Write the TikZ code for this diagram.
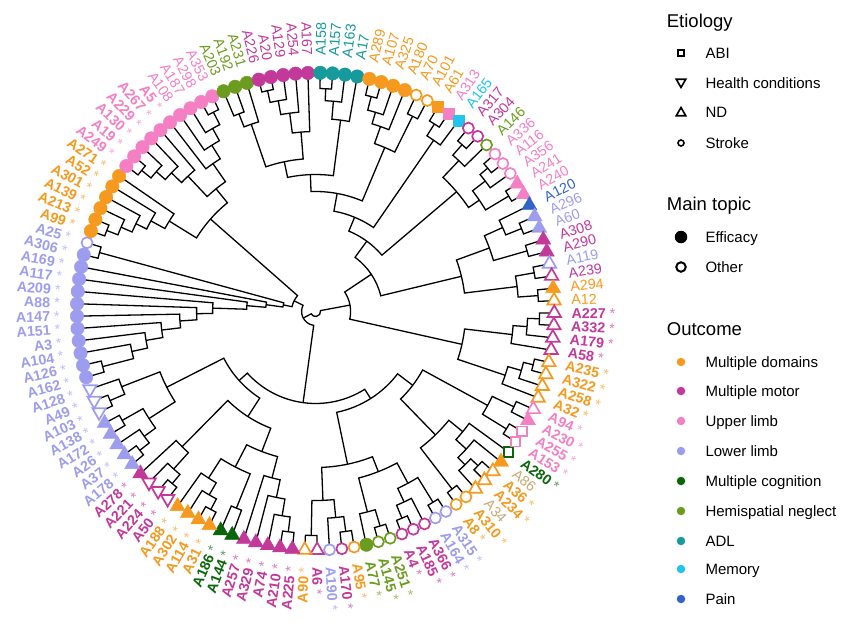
\documentclass[tikz,border=0pt]{standalone}
\usepackage{fontspec}
\setmainfont{Liberation Sans}
\usetikzlibrary{shapes.geometric}
\definecolor{cMD}{HTML}{F59A1E}
\definecolor{cMM}{HTML}{C2399A}
\definecolor{cUL}{HTML}{F480C3}
\definecolor{cLL}{HTML}{9D9DF0}
\definecolor{cMC}{HTML}{0B650B}
\definecolor{cHN}{HTML}{6C9C1F}
\definecolor{cADL}{HTML}{169A9B}
\definecolor{cMEM}{HTML}{22C4EE}
\definecolor{cPAIN}{HTML}{3163C8}
\definecolor{cTAN}{HTML}{C9A872}
\tikzset{
  br/.style={line width=1.3pt, black, line join=miter},
  mk/.style={inner sep=0pt, outer sep=0pt},
  mkc/.style={mk, circle, minimum size=13.5pt},
  mks/.style={mk, rectangle, minimum size=11pt},
  mku/.style={mk, regular polygon, regular polygon sides=3, minimum size=17.5pt},
  mkd/.style={mku, shape border rotate=180},
  mkco/.style={mk, circle, minimum size=11pt, line width=1.7pt},
  mkso/.style={mk, rectangle, minimum size=9.5pt, line width=1.7pt},
  mkuo/.style={mk, regular polygon, regular polygon sides=3, minimum size=15.5pt, line width=1.7pt},
  mkdo/.style={mkuo, shape border rotate=180},
  lbl/.style={inner sep=0pt, outer sep=0pt, font=\fontsize{14.3}{16}\selectfont},
  ttl/.style={inner sep=0pt, anchor=base west, font=\fontsize{18.5}{22}\selectfont},
  itm/.style={inner sep=0pt, anchor=base west, font=\fontsize{15}{18}\selectfont},
}
\def\tipR{238.7}
\def\labR{256}
\newcommand\jn[4]{%
  \edef\ja{\csname ta@#3\endcsname}%
  \edef\jb{\csname ta@#4\endcsname}%
  \edef\jra{\csname tr@#3\endcsname}%
  \edef\jrb{\csname tr@#4\endcsname}%
  \draw[br] (\ja:\jra pt) -- (\ja:#2pt) arc[start angle=\ja, end angle=\jb, radius=#2pt] -- (\jb:\jrb pt);
  \pgfmathsetmacro\jm{(\ja+\jb)/2}%
  \expandafter\xdef\csname ta@#1\endcsname{\jm}%
  \expandafter\xdef\csname tr@#1\endcsname{#2}%
}
\newcommand\lbltext[2]{\ifnum#2=1 \textbf{#1} {\color{.!65!white}*}\else #1\fi}
\newcommand\T[6]{%
  \edef\tang{\csname ta@#1\endcsname}%
  \ifnum#5=1 \node[mk#4, draw=#3, fill=#3, line width=0.4pt] (tip#1) at (\tang:\tipR pt) {};%
  \else \node[mk#4o, draw=#3, fill=white] (tip#1) at (\tang:\tipR pt) {};\fi
  \pgfmathsetmacro\lang{\tang<-90?\tang+360:\tang}%
  \pgfmathtruncatemacro\lside{\lang>90?1:0}%
  \ifnum#6=2 \def\lcol{cTAN}\else\def\lcol{#3}\fi
  \ifnum\lside=1
    \pgfmathsetmacro\lrot{\lang-180}%
    \node[lbl, text=\lcol, anchor=east, rotate=\lrot] (lab#1) at (\lang:\labR pt) {\lbltext{#2}{#6}};%
  \else
    \node[lbl, text=\lcol, anchor=west, rotate=\lang] (lab#1) at (\lang:\labR pt) {\lbltext{#2}{#6}};%
  \fi
}
\begin{document}
\begin{tikzpicture}
\fill[white] (-315.6pt,-317.5pt) rectangle (534.4pt,311.5pt);
\useasboundingbox (-315.6pt,-317.5pt) rectangle (534.4pt,311.5pt);
% tip angles
\foreach \n in {1,...,121}{%
  \ifnum\n>71 \pgfmathsetmacro\tipang{326.9-2.9752*\n}\else\pgfmathsetmacro\tipang{-33.1-2.9752*\n}\fi
  \expandafter\xdef\csname ta@\n\endcsname{\tipang}%
  \expandafter\xdef\csname tr@\n\endcsname{\tipR}%
}
% ---------- Q clade (top / right)
\jn{q1}{212}{72}{73}
\jn{qOL}{198}{q1}{74}
\jn{m1}{226}{75}{76}
\jn{m2}{214}{m1}{77}
\jn{m3}{200}{m2}{78}
\jn{qMG}{180}{m3}{79}
\jn{qOM}{153}{qOL}{qMG}
\jn{t1}{223}{80}{81}
\jn{t2}{211}{t1}{82}
\jn{qTE}{193}{t2}{83}
\jn{qOMT}{137}{qOM}{qTE}
\jn{o1}{222}{84}{85}
\jn{o2}{208}{o1}{86}
\jn{o3}{196}{o2}{87}
\jn{o4}{218}{88}{89}
\jn{qOR}{178}{o3}{o4}
\jn{qTO}{120}{qOMT}{qOR}
\jn{s1}{222}{90}{91}
\jn{qSQ}{208}{s1}{92}
\jn{qTOS}{102}{qTO}{qSQ}
\jn{c1}{222}{93}{94}
\jn{qCM}{208}{c1}{95}
\jn{p1}{224}{96}{97}
\jn{p2}{214}{p1}{98}
\jn{p3}{225}{99}{100}
\jn{qPK}{198}{p2}{p3}
\jn{qCP}{185}{qCM}{qPK}
\jn{qA}{87}{qTOS}{qCP}
\jn{r1}{222}{102}{103}
\jn{r2}{205}{101}{r1}
\jn{r3}{220}{104}{105}
\jn{rA}{185}{r2}{r3}
\jn{r4}{222}{106}{107}
\jn{r5}{223}{108}{109}
\jn{rB}{203}{r4}{r5}
\jn{qRR}{150}{rA}{rB}
\jn{qQ1}{67}{qA}{qRR}
\jn{mo1}{224}{110}{111}
\jn{mo2}{212}{mo1}{112}
\jn{mo3}{198}{mo2}{113}
\jn{oo1}{224}{114}{115}
\jn{oo2}{214}{oo1}{116}
\jn{oo3}{200}{oo2}{117}
\jn{qMOO}{150}{mo3}{oo3}
\jn{Q}{35}{qQ1}{qMOO}
% ---------- C clade (bottom)
\jn{ps1}{220}{118}{119}
\jn{ps2}{224}{120}{121}
\jn{cPS}{196}{ps1}{ps2}
\jn{g1}{224}{3}{4}
\jn{g2}{214}{g1}{5}
\jn{g3}{204}{2}{g2}
\jn{g4}{190}{1}{g3}
\jn{g5}{224}{6}{7}
\jn{cG}{172}{g4}{g5}
\jn{cBRb}{122}{cPS}{cG}
\jn{b1}{224}{19}{20}
\jn{b2}{222}{16}{17}
\jn{b3}{207}{18}{b2}
\jn{bL}{189}{b1}{b3}
\jn{b4}{224}{13}{14}
\jn{bOL}{207}{15}{b4}
\jn{b5}{224}{11}{12}
\jn{bMC}{210}{b5}{10}
\jn{bLC}{224}{8}{9}
\jn{bML}{195}{bMC}{bLC}
\jn{bR}{172}{bOL}{bML}
\jn{cBRa}{156}{bL}{bR}
\jn{cCR}{103}{cBRb}{cBRa}
\jn{f1}{222}{21}{22}
\jn{f2}{207}{f1}{23}
\jn{f3}{190}{f2}{24}
\jn{cMF}{172}{f3}{25}
\jn{cDK}{212}{26}{27}
\jn{e1}{224}{28}{29}
\jn{e2}{212}{e1}{30}
\jn{cOR}{198}{e2}{31}
\jn{cDO}{175}{cDK}{cOR}
\jn{cMa}{150}{cMF}{cDO}
\jn{h1}{224}{32}{33}
\jn{h2}{212}{h1}{34}
\jn{cMO}{190}{h2}{35}
\jn{cCM}{125}{cMa}{cMO}
\jn{l1}{224}{36}{37}
\jn{l2}{212}{l1}{38}
\jn{l3}{222}{39}{40}
\jn{cLTf}{198}{l2}{l3}
\jn{l4}{224}{41}{42}
\jn{cLTo}{208}{l4}{43}
\jn{cLLn}{167}{cLTf}{cLTo}
\jn{cCL}{103}{cCM}{cLLn}
\jn{C}{92}{cCR}{cCL}
% ---------- P clade (left / top-left)
\jn{la0}{220}{44}{45}
\jn{la1}{188}{la0}{46}
\jn{la2}{172}{la1}{47}
\jn{la3}{155}{la2}{48}
\jn{la4}{136}{la3}{49}
\jn{la5}{119}{la4}{50}
\jn{la6}{103}{la5}{51}
\jn{la7}{69}{la6}{52}
\jn{la8}{50}{la7}{53}
\jn{la9}{224}{54}{55}
\jn{pLAD}{33}{la8}{la9}
\jn{k1}{224}{56}{57}
\jn{k2}{212}{k1}{58}
\jn{k3}{200}{k2}{59}
\jn{k4}{188}{k3}{60}
\jn{pOR}{172}{k4}{61}
\jn{u1}{224}{62}{63}
\jn{u2}{212}{u1}{64}
\jn{u3}{200}{u2}{65}
\jn{pUa}{186}{u3}{66}
\jn{v1}{224}{70}{71}
\jn{v2}{210}{v1}{69}
\jn{v3}{196}{v2}{68}
\jn{pUb}{180}{v3}{67}
\jn{pPK}{158}{pUa}{pUb}
\jn{pTL}{140}{pOR}{pPK}
\jn{P}{24}{pLAD}{pTL}
\jn{CP}{14}{C}{P}
\jn{root}{5}{Q}{CP}
% ---------- tips: n, label, colour, shape, filled, label style
\T{1}{A280}{cMC}{s}{0}{1}
\T{2}{A86}{cMD}{u}{1}{2}
\T{3}{A36}{cMD}{u}{0}{1}
\T{4}{A234}{cMD}{u}{0}{1}
\T{5}{A34}{cMD}{u}{0}{2}
\T{6}{A310}{cMD}{c}{0}{1}
\T{7}{A8}{cMD}{c}{0}{1}
\T{8}{A315}{cLL}{c}{0}{1}
\T{9}{A164}{cLL}{c}{0}{1}
\T{10}{A366}{cMM}{c}{0}{1}
\T{11}{A185}{cMM}{c}{0}{1}
\T{12}{A4}{cMM}{c}{0}{1}
\T{13}{A251}{cHN}{c}{0}{1}
\T{14}{A145}{cHN}{c}{0}{1}
\T{15}{A77}{cHN}{c}{1}{1}
\T{16}{A95}{cMD}{c}{0}{1}
\T{17}{A170}{cMM}{c}{0}{1}
\T{18}{A190}{cLL}{c}{0}{1}
\T{19}{A6}{cMM}{u}{0}{1}
\T{20}{A90}{cMD}{u}{0}{1}
\T{21}{A225}{cMM}{u}{1}{1}
\T{22}{A210}{cMM}{u}{1}{1}
\T{23}{A74}{cMM}{u}{1}{1}
\T{24}{A329}{cMM}{u}{1}{1}
\T{25}{A257}{cMM}{u}{1}{1}
\T{26}{A144}{cMC}{u}{1}{1}
\T{27}{A186}{cMC}{u}{1}{1}
\T{28}{A31}{cMD}{u}{1}{1}
\T{29}{A114}{cMD}{u}{1}{1}
\T{30}{A302}{cMD}{u}{1}{1}
\T{31}{A188}{cMD}{u}{1}{1}
\T{32}{A50}{cMM}{d}{0}{1}
\T{33}{A224}{cMM}{d}{0}{1}
\T{34}{A221}{cMM}{d}{0}{1}
\T{35}{A278}{cMM}{u}{1}{1}
\T{36}{A178}{cLL}{u}{1}{1}
\T{37}{A37}{cLL}{u}{1}{1}
\T{38}{A26}{cLL}{u}{1}{1}
\T{39}{A172}{cLL}{u}{1}{1}
\T{40}{A138}{cLL}{u}{1}{1}
\T{41}{A103}{cLL}{d}{0}{1}
\T{42}{A49}{cLL}{d}{0}{1}
\T{43}{A128}{cLL}{d}{0}{1}
\T{44}{A162}{cLL}{c}{1}{1}
\T{45}{A126}{cLL}{c}{1}{1}
\T{46}{A104}{cLL}{c}{1}{1}
\T{47}{A3}{cLL}{c}{1}{1}
\T{48}{A151}{cLL}{c}{1}{1}
\T{49}{A147}{cLL}{c}{1}{1}
\T{50}{A88}{cLL}{c}{1}{1}
\T{51}{A209}{cLL}{c}{1}{1}
\T{52}{A117}{cLL}{c}{1}{1}
\T{53}{A169}{cLL}{c}{1}{1}
\T{54}{A306}{cLL}{c}{1}{1}
\T{55}{A25}{cLL}{c}{0}{1}
\T{56}{A99}{cMD}{c}{1}{1}
\T{57}{A213}{cMD}{c}{1}{1}
\T{58}{A139}{cMD}{c}{1}{1}
\T{59}{A301}{cMD}{c}{1}{1}
\T{60}{A52}{cMD}{c}{1}{1}
\T{61}{A271}{cMD}{c}{1}{1}
\T{62}{A249}{cUL}{c}{1}{1}
\T{63}{A19}{cUL}{c}{1}{1}
\T{64}{A130}{cUL}{c}{1}{1}
\T{65}{A229}{cUL}{c}{1}{1}
\T{66}{A267}{cUL}{c}{1}{1}
\T{67}{A5}{cUL}{c}{1}{1}
\T{68}{A108}{cUL}{c}{1}{0}
\T{69}{A187}{cUL}{c}{1}{0}
\T{70}{A298}{cUL}{c}{1}{0}
\T{71}{A353}{cUL}{c}{1}{0}
\T{72}{A203}{cHN}{c}{1}{0}
\T{73}{A192}{cHN}{c}{1}{0}
\T{74}{A231}{cHN}{c}{1}{0}
\T{75}{A226}{cMM}{c}{1}{0}
\T{76}{A20}{cMM}{c}{1}{0}
\T{77}{A129}{cMM}{c}{1}{0}
\T{78}{A254}{cMM}{c}{1}{0}
\T{79}{A167}{cMM}{c}{1}{0}
\T{80}{A158}{cADL}{c}{1}{0}
\T{81}{A157}{cADL}{c}{1}{0}
\T{82}{A163}{cADL}{c}{1}{0}
\T{83}{A17}{cADL}{c}{1}{0}
\T{84}{A289}{cMD}{c}{1}{0}
\T{85}{A107}{cMD}{c}{1}{0}
\T{86}{A325}{cMD}{c}{1}{0}
\T{87}{A180}{cMD}{c}{1}{0}
\T{88}{A70}{cMD}{c}{0}{0}
\T{89}{A101}{cMD}{c}{0}{0}
\T{90}{A61}{cMD}{s}{1}{0}
\T{91}{A313}{cUL}{s}{1}{0}
\T{92}{A165}{cMEM}{s}{1}{0}
\T{93}{A317}{cMM}{c}{0}{0}
\T{94}{A304}{cMM}{c}{0}{0}
\T{95}{A146}{cHN}{c}{0}{0}
\T{96}{A336}{cUL}{c}{0}{0}
\T{97}{A116}{cUL}{c}{0}{0}
\T{98}{A356}{cUL}{c}{0}{0}
\T{99}{A241}{cUL}{u}{1}{0}
\T{100}{A240}{cUL}{u}{1}{0}
\T{101}{A120}{cPAIN}{u}{1}{0}
\T{102}{A296}{cLL}{u}{1}{0}
\T{103}{A60}{cLL}{u}{1}{0}
\T{104}{A308}{cMM}{u}{1}{0}
\T{105}{A290}{cMM}{u}{1}{0}
\T{106}{A119}{cLL}{u}{0}{0}
\T{107}{A239}{cMM}{u}{0}{0}
\T{108}{A294}{cMD}{u}{1}{0}
\T{109}{A12}{cMD}{u}{0}{0}
\T{110}{A227}{cMM}{u}{0}{1}
\T{111}{A332}{cMM}{u}{0}{1}
\T{112}{A179}{cMM}{u}{0}{1}
\T{113}{A58}{cMM}{u}{0}{1}
\T{114}{A235}{cMD}{u}{0}{1}
\T{115}{A322}{cMD}{u}{0}{1}
\T{116}{A258}{cMD}{u}{0}{1}
\T{117}{A32}{cMD}{u}{0}{1}
\T{118}{A94}{cUL}{u}{0}{1}
\T{119}{A230}{cUL}{u}{1}{1}
\T{120}{A255}{cUL}{s}{0}{1}
\T{121}{A153}{cUL}{s}{0}{1}
% ---------- legend
\node[ttl] (lgE) at (351.1pt,283.9pt) {Etiology};
\node[mk, rectangle, draw=black, line width=1.6pt, minimum size=6pt] (lgm1) at (365.4pt,258.5pt) {};
\node[itm] (lgt1) at (389.7pt,253.1pt) {ABI};
\node[mk, regular polygon, regular polygon sides=3, shape border rotate=180, draw=black, line width=1.6pt, minimum size=11pt] (lgm2) at (365.4pt,229.5pt) {};
\node[itm] (lgt2) at (389.7pt,223.1pt) {Health conditions};
\node[mk, regular polygon, regular polygon sides=3, draw=black, line width=1.6pt, minimum size=11pt] (lgm3) at (365.4pt,198.5pt) {};
\node[itm] (lgt3) at (389.7pt,194.1pt) {ND};
\node[mk, circle, draw=black, line width=1.6pt, minimum size=6pt] (lgm4) at (365.4pt,168.5pt) {};
\node[itm] (lgt4) at (389.7pt,163.1pt) {Stroke};
\node[ttl] (lgM) at (351.1pt,100.9pt) {Main topic};
\node[mk, circle, fill=black, minimum size=12.5pt] (lgm5) at (365.4pt,74.5pt) {};
\node[itm] (lgt5) at (389.7pt,69.1pt) {Efficacy};
\node[mk, circle, draw=black, line width=2pt, minimum size=9.5pt] (lgm6) at (365.4pt,44.5pt) {};
\node[itm] (lgt6) at (389.7pt,39.1pt) {Other};
\node[ttl] (lgO) at (351.1pt,-24.1pt) {Outcome};
\foreach \yy/\cc/\lgtxt [count=\i] in {-50.5/cMD/Multiple domains, -79.5/cMM/Multiple motor, -109.5/cUL/Upper limb, -139.5/cLL/Lower limb, -169.5/cMC/Multiple cognition, -199.5/cHN/Hemispatial neglect, -229.5/cADL/ADL, -257.5/cMEM/Memory, -287.5/cPAIN/Pain}{%
  \node[mk, circle, fill=\cc, minimum size=8.5pt] (lgc\i) at (365.4pt,\yy pt) {};
  \node[itm] (lgo\i) at (389.7pt,\yy pt-5.4pt) {\lgtxt};
}
\end{tikzpicture}
\end{document}
